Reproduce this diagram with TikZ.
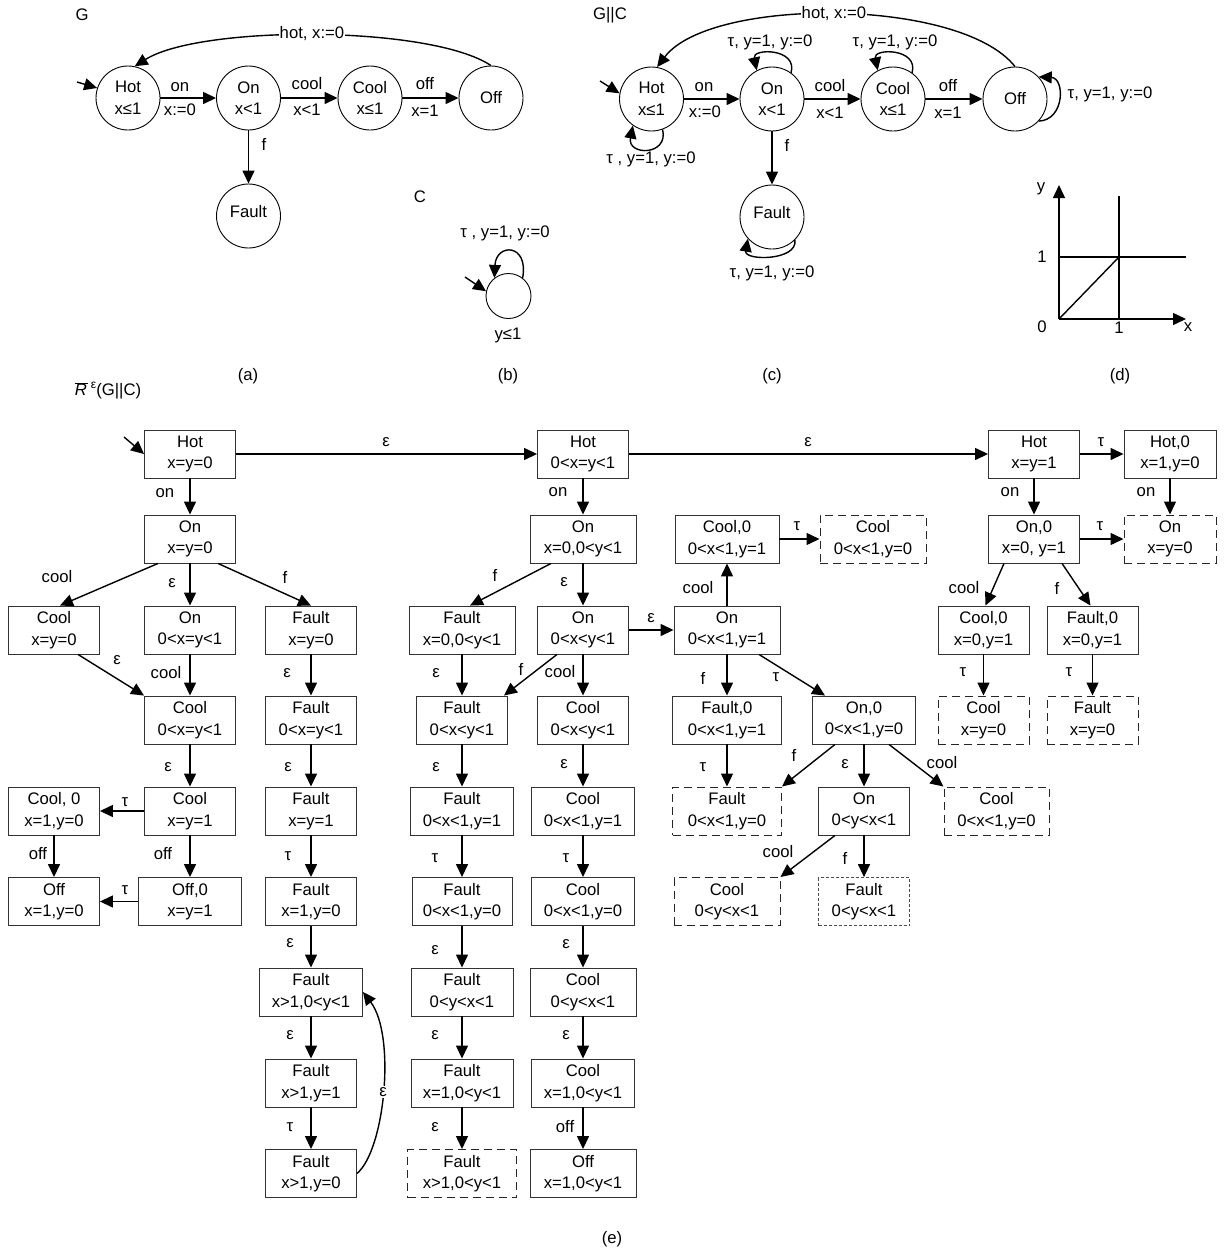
\documentclass[tikz,border=0pt]{standalone}
\usepackage{fontspec}
\setmainfont{Liberation Sans}
\usetikzlibrary{arrows.meta}
\begin{document}
\begin{tikzpicture}[x=1pt,y=-1pt,
  every node/.style={font=\fontsize{16.7}{21.5}\selectfont, inner sep=0pt},
  box/.style={draw=black!80, line width=0.9pt, minimum width=#1, minimum height=48, inner xsep=3, inner ysep=2, align=center},
  box/.default=91,
  dbox/.style={box=#1, draw=black!85, line width=1.0pt, dash pattern=on 8pt off 5pt},
  dbox/.default=91,
  obox/.style={box=#1, draw=black!70, line width=0.8pt, dash pattern=on 3pt off 2pt},
  obox/.default=91,
  st/.style={draw=black, line width=0.9pt, circle, minimum size=64, align=center},
  arr/.style={draw=black, line width=1.4pt, -{Triangle[length=13pt,width=12pt]}},
  ln/.style={draw=black, line width=1.4pt},
  wl/.style={fill=white, inner xsep=1pt, inner ysep=1pt},
]
\useasboundingbox (0,0) rectangle (1224,1256);

% ---------------- (a) G ----------------
\node (tG) at (82,15) {G};
\node[st] (Ha) at (128,98) {Hot\\x≤1};
\node[st] (Oa) at (248.5,98) {On\\x<1};
\node[st] (Ca) at (370,98) {Cool\\x≤1};
\node[st] (Fa) at (491,98) {Off};
\node[st] (Xa) at (248.5,216) {\raisebox{9pt}{Fault}};
\coordinate (ia) at (77,82);
\draw[arr] (ia) -- (Ha.162);
\draw[arr] (Ha) -- (Oa);
\draw[arr] (Oa) -- (Ca);
\draw[arr] (Ca) -- (Fa);
\draw[arr] (Oa) -- (Xa);
\draw[arr] (Fa.90) .. controls (430,25) and (200,25) .. (Ha.78);
\node[wl] (ta1) at (312,34) {hot, x:=0};
\node (ta2) at (180,87) {on};
\node (ta3) at (180,110) {x:=0};
\node (ta4) at (307,84) {cool};
\node (ta5) at (307,110) {x<1};
\node (ta6) at (425,84) {off};
\node (ta7) at (425,111) {x=1};
\node (ta8) at (264,144) {f};
\node (capa) at (248,376) {(a)};

% ---------------- (b) C ----------------
\node (tC) at (420,197) {C};
\node[st, minimum size=45] (Cb) at (508.5,296) {};
\coordinate (ib) at (465,277);
\draw[arr] (ib) -- (Cb.168);
\draw[arr] (Cb.52) .. controls (529,243) and (496,243) .. (Cb.128);
\node (tb1) at (505,233) {τ , y=1, y:=0};
\node (tb2) at (508,335) {y≤1};
\node (capb) at (508,376) {(b)};

% ---------------- (c) G||C ----------------
\node (tGC) at (610,15) {G||C};
\node[st] (Hc) at (651.5,99) {Hot\\x≤1};
\node[st] (Oc) at (772,99) {On\\x<1};
\node[st] (Cc) at (893,99) {Cool\\x≤1};
\node[st] (Fc) at (1015,99) {Off};
\node[st] (Xc) at (772,217) {\raisebox{9pt}{Fault}};
\coordinate (ic) at (600,81);
\draw[arr] (ic) -- (Hc.170);
\draw[arr] (Hc) -- (Oc);
\draw[arr] (Oc) -- (Cc);
\draw[arr] (Cc) -- (Fc);
\draw[arr] (Oc) -- (Xc);
\draw[arr] (Fc.90) .. controls (960,-3) and (710,-3) .. (Hc.80);
\draw[arr] (Oc.54) .. controls (798,48) and (752,48) .. (Oc.118);
\draw[arr] (Cc.54) .. controls (919,48) and (873,48) .. (Cc.118);
\draw[arr] (Hc.-70) .. controls (669,156) and (627,156) .. (Hc.-125);
\draw[arr] (Xc.-45) .. controls (798,261) and (744,261) .. (Xc.-138);
\draw[arr] (Fc.-43) .. controls (1065,120) and (1065,78) .. (Fc.43);
\node[wl] (tc1) at (834,14) {hot, x:=0};
\node (tc2) at (704,87) {on};
\node (tc3) at (705,112) {x:=0};
\node (tc4) at (830,86) {cool};
\node (tc5) at (830,113) {x<1};
\node (tc6) at (948,86) {off};
\node (tc7) at (948,113) {x=1};
\node (tc8) at (787,145) {f};
\node (tc9) at (651,159) {τ , y=1, y:=0};
\node (tc10) at (770,42) {τ, y=1, y:=0};
\node (tc11) at (895,42) {τ, y=1, y:=0};
\node (tc12) at (772,273) {τ, y=1, y:=0};
\node (tc13) at (1110,94) {τ, y=1, y:=0};
\node (capc) at (772,376) {(c)};

% ---------------- (d) ----------------
\draw[arr] (1059,319) -- (1059,185);
\draw[arr] (1059,319) -- (1186,319);
\draw[ln] (1119,196) -- (1119,319);
\draw[ln] (1059,257) -- (1186,257);
\draw[ln] (1059,319) -- (1119,257);
\node (td1) at (1041,189) {y};
\node (td2) at (1042,257) {1};
\node (td3) at (1042,327) {0};
\node (td4) at (1119,328) {1};
\node (td5) at (1188,327) {x};
\node (capd) at (1120,376) {(d)};

% ---------------- (e) ----------------
\node (title) at (108,391) {$\overline{\mbox{\itshape R\kern1pt}}$\kern3pt\raisebox{7pt}{\fontsize{12}{12}\selectfont ε}(G||C)};

% column B / A / C
\node[box] (e01) at (190,454) {Hot\\x=y=0};
\node[box] (e02) at (190,539) {On\\x=y=0};
\node[box] (e03) at (54,630) {Cool\\x=y=0};
\node[box] (e04) at (190,630) {On\\0<x=y<1};
\node[box] (e05) at (311,630) {Fault\\x=y=0};
\node[box] (e06) at (190,720) {Cool\\0<x=y<1};
\node[box] (e07) at (311,720) {Fault\\0<x=y<1};
\node[box] (e08) at (54,811) {Cool, 0\\x=1,y=0};
\node[box] (e09) at (190,811) {Cool\\x=y=1};
\node[box] (e10) at (311,811) {Fault\\x=y=1};
\node[box] (e11) at (54,901.5) {Off\\x=1,y=0};
\node[box=103] (e12) at (190,901.5) {Off,0\\x=y=1};
\node[box] (e13) at (311,901.5) {Fault\\x=1,y=0};
\node[box=103] (e14) at (311,992) {Fault\\x>1,0<y<1};
\node[box] (e15) at (311,1083) {Fault\\x>1,y=1};
\node[box] (e16) at (311,1173.5) {Fault\\x>1,y=0};

% columns D / E
\node[box] (e20) at (583,454) {Hot\\0<x=y<1};
\node[box=106] (e21) at (583,539) {On\\x=0,0<y<1};
\node[box=106] (e22) at (462,630) {Fault\\x=0,0<y<1};
\node[box] (e23) at (583,630) {On\\0<x<y<1};
\node[box] (e24) at (462,720) {Fault\\0<x<y<1};
\node[box] (e25) at (583,720) {Cool\\0<x<y<1};
\node[box=103] (e26) at (462,811) {Fault\\0<x<1,y=1};
\node[box=103] (e27) at (583,811) {Cool\\0<x<1,y=1};
\node[box=100] (e28) at (462,901.5) {Fault\\0<x<1,y=0};
\node[box=103] (e29) at (583,901.5) {Cool\\0<x<1,y=0};
\node[box=102] (e30) at (462,992) {Fault\\0<y<x<1};
\node[box=106] (e31) at (583,992) {Cool\\0<y<x<1};
\node[box=102] (e32) at (462,1083) {Fault\\x=1,0<y<1};
\node[box=103] (e33) at (583,1083) {Cool\\x=1,0<y<1};
\node[dbox=109] (e34) at (462,1173.5) {Fault\\x>1,0<y<1};
\node[box=106] (e35) at (583,1173.5) {Off\\x=1,0<y<1};

% columns F / G / H
\node[box=104] (e40) at (727,539) {Cool,0\\0<x<1,y=1};
\node[dbox=106] (e41) at (873,539) {Cool\\0<x<1,y=0};
\node[box=106] (e42) at (727,630) {On\\0<x<1,y=1};
\node[box=109] (e43) at (727,720) {Fault,0\\0<x<1,y=1};
\node[box=103] (e44) at (864,720) {On,0\\0<x<1,y=0};
\node[dbox=109] (e45) at (727,811) {Fault\\0<x<1,y=0};
\node[box] (e46) at (864,811) {On\\0<y<x<1};
\node[dbox=105] (e47) at (996.5,811) {Cool\\0<x<1,y=0};
\node[dbox=106] (e48) at (727,901.5) {Cool\\0<y<x<1};
\node[obox] (e49) at (864,901.5) {Fault\\0<y<x<1};

% columns I / J / K
\node[box] (e50) at (1034,454) {Hot\\x=y=1};
\node[box=92] (e51) at (1170,454) {Hot,0\\x=1,y=0};
\node[box] (e52) at (1034,539) {On,0\\x=0, y=1};
\node[dbox=92] (e53) at (1170,539) {On\\x=y=0};
\node[box] (e54) at (983.5,630) {Cool,0\\x=0,y=1};
\node[box] (e55) at (1092.5,630) {Fault,0\\x=0,y=1};
\node[dbox] (e56) at (983.5,720) {Cool\\x=y=0};
\node[dbox] (e57) at (1092.5,720) {Fault\\x=y=0};

% edges (e)
\coordinate (ie) at (124,437);
\draw[arr] (ie) -- (e01.west);
\draw[arr] (e01) -- (e20);
\draw[arr] (e20) -- (e50);
\draw[arr] (e50) -- (e51);
\draw[arr] (e01) -- (e02);
\draw[arr] (e20) -- (e21);
\draw[arr] (e50) -- (e52);
\draw[arr] (e51) -- (e53);
\draw[arr] ([xshift=-32]e02.south) -- ([xshift=6]e03.north);
\draw[arr] (e02) -- (e04);
\draw[arr] ([xshift=28]e02.south) -- (e05.north);
\draw[arr] ([xshift=24]e03.south) -- (e06.north west);
\draw[arr] (e04) -- (e06);
\draw[arr] (e05) -- (e07);
\draw[arr] (e06) -- (e09);
\draw[arr] (e07) -- (e10);
\draw[arr] (e09) -- (e08);
\draw[arr] (e09) -- (e12);
\draw[arr] (e08) -- (e11);
\draw[arr] (e12) -- (e11);
\draw[arr] (e10) -- (e13);
\draw[arr] (e13) -- (e14);
\draw[arr] (e14) -- (e15);
\draw[arr] (e15) -- (e16);
\draw[arr] (e16.east) .. controls (385,1150) and (396,1035) .. (e14.east);

\draw[arr] ([xshift=-32]e21.south) -- ([xshift=8]e22.north);
\draw[arr] (e21) -- (e23);
\draw[arr] (e22) -- (e24);
\draw[arr] ([xshift=-26]e23.south) -- ([xshift=-4]e24.north east);
\draw[arr] (e23) -- (e25);
\draw[arr] (e23) -- (e42);
\draw[arr] (e24) -- (e26);
\draw[arr] (e25) -- (e27);
\draw[arr] (e26) -- (e28);
\draw[arr] (e27) -- (e29);
\draw[arr] (e28) -- (e30);
\draw[arr] (e29) -- (e31);
\draw[arr] (e30) -- (e32);
\draw[arr] (e31) -- (e33);
\draw[arr] (e32) -- (e34);
\draw[arr] (e33) -- (e35);

\draw[arr] (e42) -- (e40);
\draw[arr] (e40) -- (e41);
\draw[arr] (e42) -- (e43);
\draw[arr] ([xshift=32]e42.south) -- ([xshift=-39]e44.north);
\draw[arr] (e43) -- (e45);
\draw[arr] ([xshift=-29]e44.south) -- (e45.north east);
\draw[arr] (e44) -- (e46);
\draw[arr] ([xshift=25]e44.south) -- (e47.north west);
\draw[arr] ([xshift=-29]e46.south) -- (e48.north east);
\draw[arr] (e46) -- (e49);

\draw[arr] (e52) -- (e53);
\draw[arr] ([xshift=-30]e52.south) -- ([xshift=2]e54.north);
\draw[arr] ([xshift=28]e52.south) -- ([xshift=-2]e55.north);
\draw[arr] (e54) -- (e56);
\draw[arr] (e55) -- (e57);

% edge labels (e)
\node (l01) at (386,442) {ε};
\node (l02) at (808,442) {ε};
\node (l03) at (1101,442) {τ};
\node (l04) at (165,493) {on};
\node (l05) at (558,492) {on};
\node (l06) at (1010,492) {on};
\node (l07) at (1146,492) {on};
\node (l08) at (797,526) {τ};
\node (l09) at (1100,526) {τ};
\node (l10) at (57,577) {cool};
\node (l11) at (172,583) {ε};
\node (l12) at (285,577) {f};
\node (l13) at (495,575) {f};
\node (l14) at (564,582) {ε};
\node (l15) at (698,588) {cool};
\node (l16) at (964,588) {cool};
\node (l17) at (1057,588) {f};
\node (l18) at (651,618) {ε};
\node (l19) at (117,660) {ε};
\node (l20) at (166,673) {cool};
\node (l21) at (287,673) {ε};
\node (l22) at (436,673) {ε};
\node (l23) at (521,669) {f};
\node (l24) at (560,672) {cool};
\node (l25) at (703,678) {f};
\node (l26) at (776,677) {τ};
\node (l27) at (963,672) {τ};
\node (l28) at (1069,672) {τ};
\node (l29) at (168,767) {ε};
\node (l30) at (288,767) {ε};
\node (l31) at (436,767) {ε};
\node (l32) at (564,764) {ε};
\node (l33) at (703,767) {τ};
\node (l34) at (794,755) {f};
\node (l35) at (845,764) {ε};
\node (l36) at (942,763) {cool};
\node (l37) at (125,802) {τ};
\node (l38) at (38,854) {off};
\node (l39) at (163,854) {off};
\node (l40) at (288,856) {τ};
\node (l41) at (435,858) {τ};
\node (l42) at (566,858) {τ};
\node (l43) at (778,852) {cool};
\node (l44) at (845,858) {f};
\node (l45) at (125,890) {τ};
\node (l46) at (290,943) {ε};
\node (l47) at (435,950) {ε};
\node (l48) at (566,944) {ε};
\node (l49) at (290,1035) {ε};
\node (l50) at (435,1035) {ε};
\node (l51) at (566,1035) {ε};
\node (l52) at (290,1127) {τ};
\node (l53) at (435,1127) {ε};
\node (l54) at (565,1127) {off};
\node[wl] (l55) at (383,1092) {ε};
\node (cape) at (612,1239) {(e)};
\end{tikzpicture}
\end{document}
